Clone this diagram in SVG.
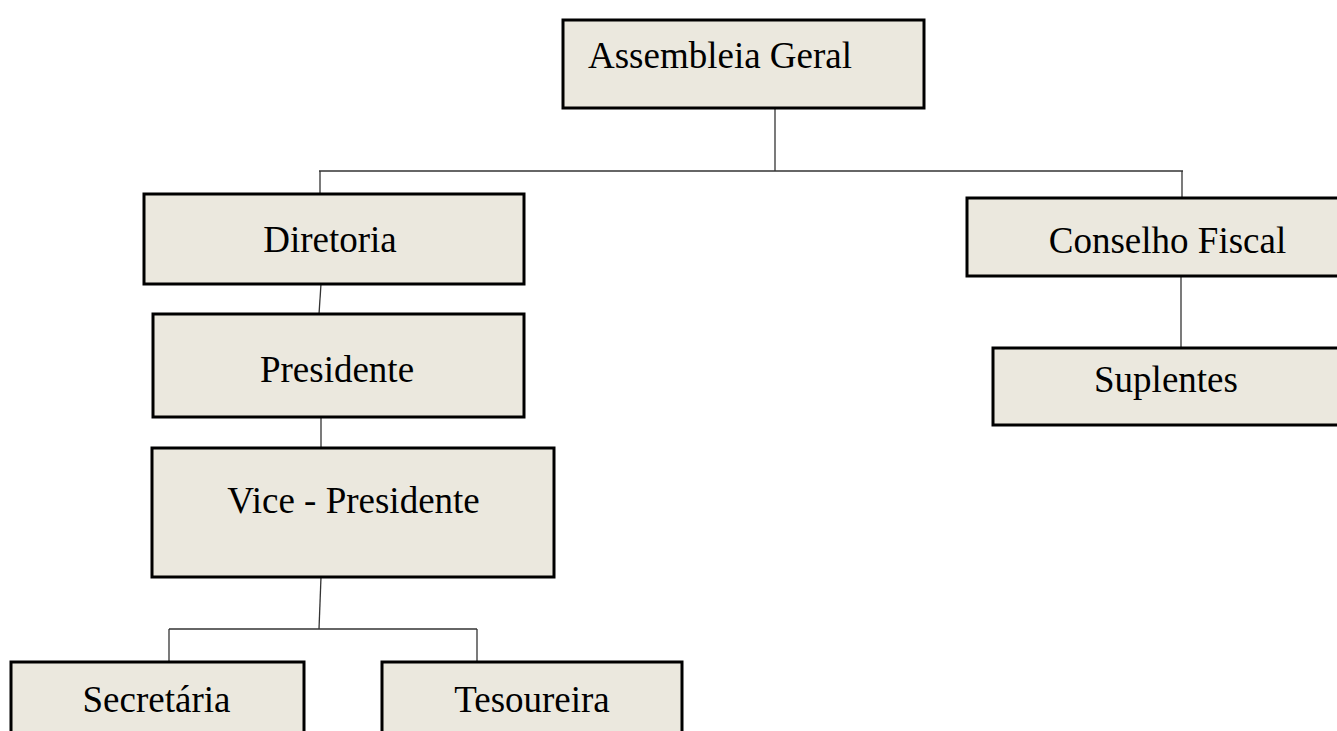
<svg xmlns="http://www.w3.org/2000/svg" width="1337" height="731" viewBox="0 0 1337 731">
<style>
.box{fill:#EBE8DE;stroke:#000;stroke-width:3}
.lbl{font-family:"Liberation Serif","Times New Roman",serif;font-size:37px;fill:#000}
.c{text-anchor:middle}
.conn{stroke:#333;stroke-width:1.3;fill:none}
</style>
<rect width="1337" height="731" fill="#fff"/>
<g id="connectors">
<line class="conn" x1="775" y1="108" x2="775" y2="171"/>
<line class="conn" x1="319" y1="171" x2="1183" y2="171"/>
<line class="conn" x1="320" y1="171" x2="320" y2="194"/>
<line class="conn" x1="1182" y1="171" x2="1182" y2="198"/>
<line class="conn" x1="321" y1="284" x2="319" y2="314"/>
<line class="conn" x1="321" y1="417" x2="321" y2="448"/>
<line class="conn" x1="321" y1="577" x2="319" y2="629"/>
<line class="conn" x1="169" y1="629" x2="477" y2="629"/>
<line class="conn" x1="169" y1="629" x2="169" y2="662"/>
<line class="conn" x1="477" y1="629" x2="477" y2="662"/>
<line class="conn" x1="1181" y1="277" x2="1181" y2="348"/>
</g>
<g id="assembleia">
<rect class="box" x="563" y="20" width="361" height="88"/>
<text class="lbl" x="588" y="68">Assembleia Geral</text>
</g>
<g id="diretoria">
<rect class="box" x="144" y="194" width="380" height="90"/>
<text class="lbl c" x="330" y="252">Diretoria</text>
</g>
<g id="presidente">
<rect class="box" x="153" y="314" width="371" height="103"/>
<text class="lbl c" x="337" y="382">Presidente</text>
</g>
<g id="vice">
<rect class="box" x="152" y="448" width="402" height="129"/>
<text class="lbl c" x="353.5" y="513">Vice - Presidente</text>
</g>
<g id="secretaria">
<rect class="box" x="11" y="662" width="293" height="90"/>
<text class="lbl c" x="156.5" y="712">Secretária</text>
</g>
<g id="tesoureira">
<rect class="box" x="382" y="662" width="300" height="90"/>
<text class="lbl c" x="532" y="712">Tesoureira</text>
</g>
<g id="conselho">
<rect class="box" x="967" y="198" width="401" height="78"/>
<text class="lbl c" x="1167.5" y="253">Conselho Fiscal</text>
</g>
<g id="suplentes">
<rect class="box" x="993" y="348" width="348" height="77"/>
<text class="lbl c" x="1166" y="392">Suplentes</text>
</g>
</svg>
